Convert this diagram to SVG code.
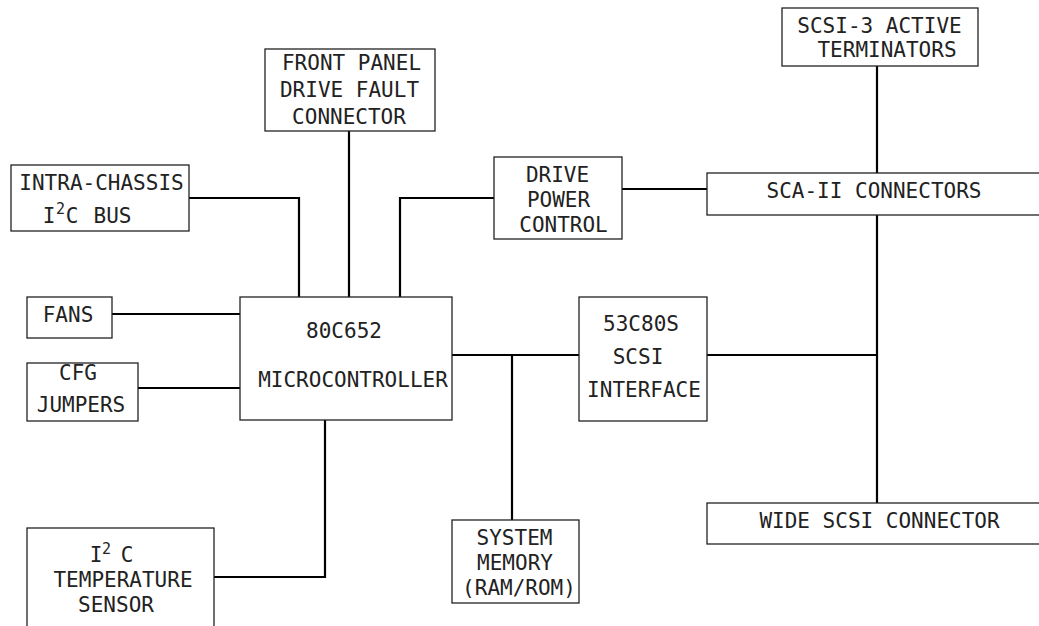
<svg xmlns="http://www.w3.org/2000/svg" width="1039" height="626" viewBox="0 0 1039 626">
<style>
  .box { fill: #fff; stroke: #222; stroke-width: 1.3; }
  .wire { fill: none; stroke: #000; stroke-width: 2.2; }
  text { font-family: "DejaVu Sans Mono", "Liberation Mono", monospace; font-size: 21px; fill: #222; text-anchor: middle; }
  .sup { font-size: 15px; text-anchor: start; }
</style>
<rect width="1039" height="626" fill="#fff"/>
<g id="connectors">
  <path class="wire" d="M189,198 H299 V297"/>
  <path class="wire" d="M349,131 V297"/>
  <path class="wire" d="M400,297 V198 H494"/>
  <path class="wire" d="M622,189 H707"/>
  <path class="wire" d="M877,66 V173"/>
  <path class="wire" d="M877,215 V503"/>
  <path class="wire" d="M707,355 H877"/>
  <path class="wire" d="M452,355 H579"/>
  <path class="wire" d="M512,355 V520"/>
  <path class="wire" d="M112,314 H240"/>
  <path class="wire" d="M138,388 H240"/>
  <path class="wire" d="M325,420 V577 H214"/>
</g>
<g id="intra-chassis">
  <rect class="box" x="11" y="165" width="178" height="66"/>
  <text x="101.5" y="190">INTRA-CHASSIS</text>
  <text y="223"><tspan x="49">I</tspan><tspan class="sup" x="56" y="214">2</tspan><tspan x="72" y="223">C</tspan><tspan x="112.5" y="223">BUS</tspan></text>
</g>
<g id="front-panel">
  <rect class="box" x="265" y="49" width="170" height="82"/>
  <text x="351.5" y="70">FRONT PANEL</text>
  <text x="349.5" y="97">DRIVE FAULT</text>
  <text x="349" y="124">CONNECTOR</text>
</g>
<g id="drive-power">
  <rect class="box" x="494" y="157" width="128" height="82"/>
  <text x="557.5" y="182">DRIVE</text>
  <text x="558.5" y="207">POWER</text>
  <text x="563.5" y="232">CONTROL</text>
</g>
<g id="terminators">
  <rect class="box" x="782" y="8" width="196" height="58"/>
  <text x="879.5" y="33">SCSI-3 ACTIVE</text>
  <text x="887" y="57">TERMINATORS</text>
</g>
<g id="sca-ii">
  <rect class="box" x="707" y="173" width="345" height="42"/>
  <text x="874" y="198">SCA-II CONNECTORS</text>
</g>
<g id="fans">
  <rect class="box" x="27" y="297" width="85" height="41"/>
  <text x="68" y="322">FANS</text>
</g>
<g id="cfg-jumpers">
  <rect class="box" x="27" y="363" width="111" height="58"/>
  <text x="78" y="380">CFG</text>
  <text x="81" y="412">JUMPERS</text>
</g>
<g id="microcontroller">
  <rect class="box" x="240" y="297" width="212" height="123"/>
  <text x="344" y="338">80C652</text>
  <text x="353" y="387">MICROCONTROLLER</text>
</g>
<g id="scsi-interface">
  <rect class="box" x="579" y="297" width="128" height="124"/>
  <text x="641" y="331">53C80S</text>
  <text x="638" y="364">SCSI</text>
  <text x="644" y="397">INTERFACE</text>
</g>
<g id="system-memory">
  <rect class="box" x="452" y="520" width="127" height="83"/>
  <text x="514.5" y="545">SYSTEM</text>
  <text x="515" y="570">MEMORY</text>
  <text x="519" y="595">(RAM/ROM)</text>
</g>
<g id="wide-scsi">
  <rect class="box" x="707" y="503" width="345" height="41"/>
  <text x="879.5" y="528">WIDE SCSI CONNECTOR</text>
</g>
<g id="temp-sensor">
  <rect class="box" x="27" y="528" width="187" height="110"/>
  <text y="562"><tspan x="96">I</tspan><tspan class="sup" x="102" y="554">2</tspan><tspan x="127" y="562">C</tspan></text>
  <text x="123" y="587">TEMPERATURE</text>
  <text x="116" y="612">SENSOR</text>
</g>
</svg>
